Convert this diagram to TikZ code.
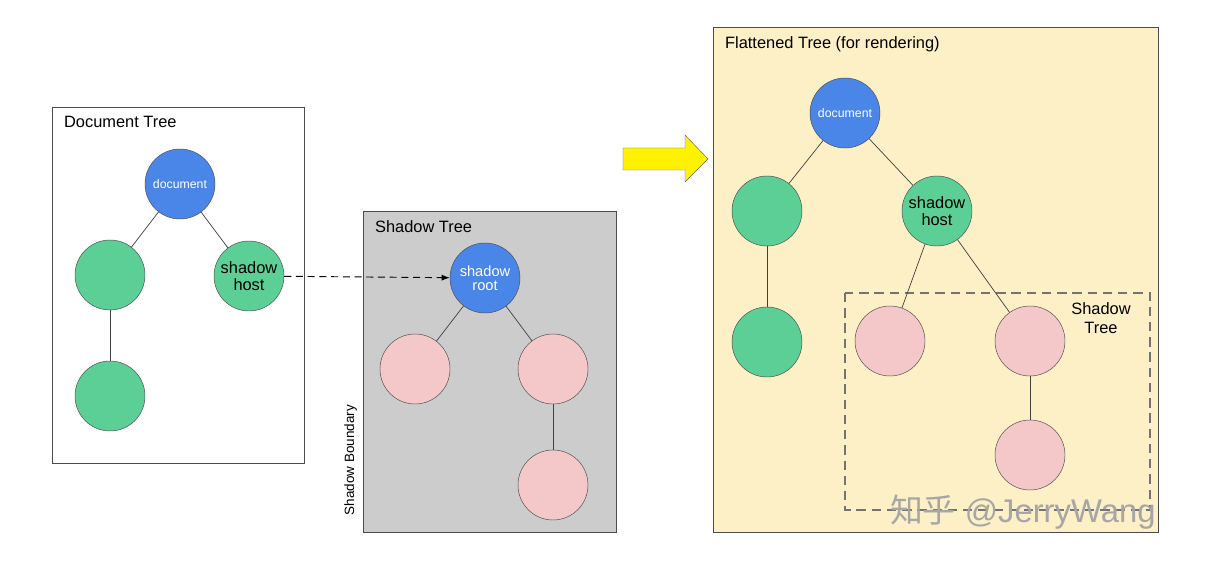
\documentclass[tikz,border=0pt]{standalone}
\usepackage{fontspec}
\setmainfont{Liberation Sans}
\newfontfamily\cjk{Noto Sans CJK SC}
\usetikzlibrary{arrows.meta}
\definecolor{nodeblue}{HTML}{4A86E8}
\definecolor{nodegreen}{HTML}{5BCF96}
\definecolor{nodepink}{HTML}{F4C7C9}
\definecolor{flatbg}{HTML}{FDEFC6}
\begin{document}
\begin{tikzpicture}[x=0.03cm, y=-0.03cm,
    every node/.style={font=\fontsize{14}{16}\selectfont},
    blue/.style={circle, draw=black!70, fill=nodeblue, text=white, minimum size=2.1cm, inner sep=0pt, align=center, font=\fontsize{12.5}{14}\selectfont},
    green/.style={circle, draw=black!70, fill=nodegreen, minimum size=2.1cm, inner sep=0pt, align=center, font=\fontsize{14}{16}\selectfont},
    pink/.style={circle, draw=black!70, fill=nodepink, minimum size=2.1cm, inner sep=0pt},
    link/.style={draw=black!75, semithick}]
			\useasboundingbox (0,0) rectangle (1221,564);
			% Boxes
			\draw[black!70, semithick] (52,107) rectangle (304,463);
			\node[anchor=west] (dtitle) at (60,122) {Document Tree};
			\draw[black!70, semithick, fill=black!20] (363,211) rectangle (616,532);
			\node[anchor=west] (stitle) at (371,227) {Shadow Tree};
			\node[rotate=90, anchor=south, font=\fontsize{11.5}{13}\selectfont] (bound) at (361,460) {Shadow Boundary};
			\draw[black!70, semithick, fill=flatbg] (713,27) rectangle (1158,532);
			\node[anchor=west] (ftitle) at (721,44) {Flattened Tree (for rendering)};
			\draw[black!55, dashed, very thick, dash pattern=on 8pt off 5pt] (845,293) rectangle (1150,510);
			\node[align=center] (stree) at (1101,318) {Shadow\\Tree};
			
			% Document tree
			\node[blue, font=\fontsize{10.5}{12}\selectfont] (doc) at (180,184) {document};
			\node[green] (g1) at (110,275) {};
			\node[green] (host) at (249,276) {shadow\\[-2pt]host};
			\node[green] (g2) at (110,396) {};
			\draw[link] (doc) -- (g1);
			\draw[link] (doc) -- (host);
			\draw[link] (g1) -- (g2);
			
			% Shadow tree
			\node[blue] (root) at (485,278) {shadow\\[-2pt]root};
			\node[pink] (p1) at (415,369) {};
			\node[pink] (p2) at (553,369) {};
			\node[pink] (p3) at (553,485) {};
			\draw[link] (root) -- (p1);
			\draw[link] (root) -- (p2);
			\draw[link] (p2) -- (p3);
			\draw[dashed, thick, dash pattern=on 6pt off 4pt, -{Latex[length=7pt]}] (host) -- (root);
			
			% Flattened tree
			\node[blue, font=\fontsize{10.5}{12}\selectfont] (fdoc) at (845,113) {document};
			\node[green] (fg1) at (767,211) {};
			\node[green] (fhost) at (937,211) {shadow\\[-2pt]host};
			\node[green] (fg2) at (767,342) {};
			\node[pink] (fp1) at (890,341) {};
			\node[pink] (fp2) at (1030,341) {};
			\node[pink] (fp3) at (1030,455) {};
			\draw[link] (fdoc) -- (fg1);
			\draw[link] (fdoc) -- (fhost);
			\draw[link] (fg1) -- (fg2);
			\draw[link] (fhost) -- (fp1);
			\draw[link] (fhost) -- (fp2);
			\draw[link] (fp2) -- (fp3);
			
			% Yellow arrow
			\draw[black!60, fill=yellow] (623,148) -- (685,148) -- (685,135) -- (708,159) -- (685,182) -- (685,170) -- (623,170) -- cycle;
			
			% Watermark
			\node[anchor=west, text=black!35, font=\fontsize{28}{30}\selectfont] (mark) at (886,512) {{\cjk 知乎} @JerryWang};
		\end{tikzpicture}
\end{document}
